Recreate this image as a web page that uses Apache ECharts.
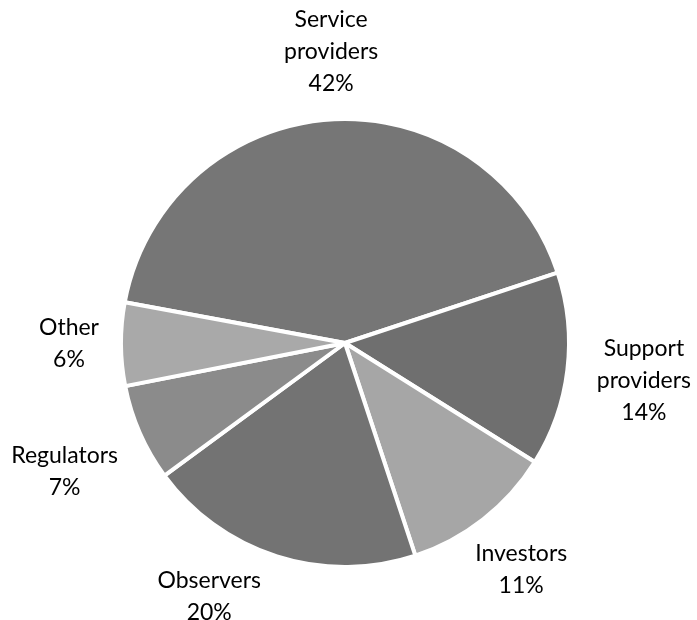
<!DOCTYPE html>
<html>
<head>
<meta charset="utf-8">
<script src="https://cdn.jsdelivr.net/npm/echarts@6/dist/echarts.min.js"></script>
<style>
html,body{margin:0;padding:0;background:#fff;}
#chart{width:697px;height:620px;}
</style>
</head>
<body>
<div id="chart"></div>
<script>
// Data
var categories = ['Service providers', 'Support providers', 'Investors', 'Observers', 'Regulators', 'Other'];
var shares = [42, 14, 11, 20, 7, 6];

// Styles (kept separate from data)
var sliceColors = ['#767676', '#6f6f6f', '#a6a6a6', '#737373', '#8b8b8b', '#a9a9a9'];
var labelOffsets = [[6, 0], [9, 2], [-4, -3], [-47, -25], [-13, 11], [16, -1]];

var chart = echarts.init(document.getElementById('chart'), null, {renderer: 'canvas'});

var pieData = categories.map(function (c, i) {
  return {name: c, value: shares[i], itemStyle: {color: sliceColors[i]}};
});
var labelData = categories.map(function (c, i) {
  return {name: c, value: shares[i], label: {offset: labelOffsets[i]}};
});

var option = {
  animation: false,
  backgroundColor: '#ffffff',
  series: [
    {
      type: 'pie',
      center: [345, 343],
      radius: 224,
      startAngle: 169.5,
      clockwise: true,
      silent: true,
      itemStyle: {borderColor: '#ffffff', borderWidth: 4},
      label: {show: false},
      labelLine: {show: false},
      data: pieData
    },
    {
      type: 'pie',
      center: [345, 343],
      radius: [279, 299],
      startAngle: 169.5,
      clockwise: true,
      silent: true,
      percentPrecision: 0,
      itemStyle: {color: 'rgba(0,0,0,0)', borderWidth: 0},
      labelLine: {show: false},
      label: {
        show: true,
        position: 'inside',
        color: '#000000',
        fontFamily: 'Lato',
        fontSize: 23,
        lineHeight: 32,
        align: 'center',
        verticalAlign: 'middle',
        formatter: function (p) {
          return p.name.replace(' ', '\n') + '\n' + p.percent + '%';
        }
      },
      data: labelData
    }
  ]
};
chart.setOption(option);
</script>
</body>
</html>
